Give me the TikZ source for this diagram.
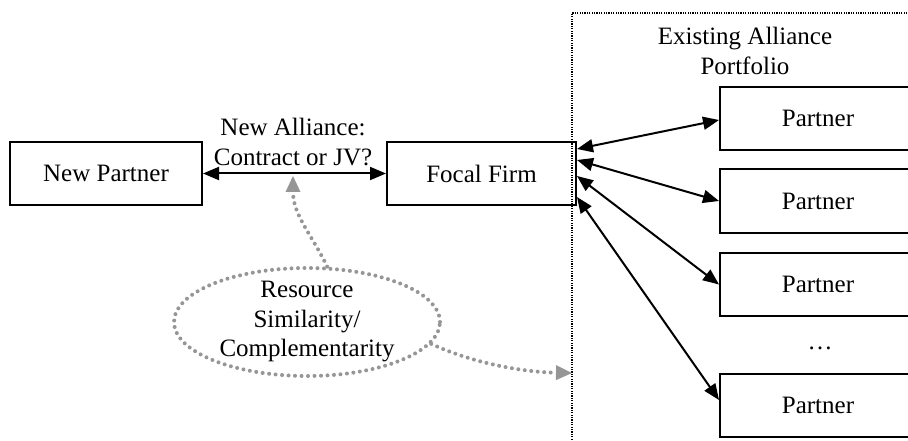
\documentclass[tikz,border=0pt]{standalone}
\usepackage{fontspec}
\setmainfont{Liberation Serif}
\usetikzlibrary{arrows.meta,shapes.geometric,calc}
\definecolor{dotgray}{RGB}{150,150,150}
\begin{document}
\begin{tikzpicture}[x=1pt,y=-1pt,
  box/.style={draw,line width=2pt,minimum width=192pt,minimum height=63pt,inner sep=0pt,font=\fontsize{25}{30}\selectfont},
  lbl/.style={align=center,inner sep=0pt,font=\fontsize{25}{29.5}\selectfont},
  link/.style={line width=2pt,{Triangle[length=16pt,width=13pt]}-{Triangle[length=16pt,width=13pt]}},
  gdot/.style={draw=dotgray,line width=4pt,line cap=round,dash pattern=on 0pt off 6.5pt},
  garrow/.style={gdot,-{Triangle[length=16pt,width=15pt,line width=0pt,fill=dotgray]}},
  border/.style={line width=1.6pt,dash pattern=on 1.2pt off 1.2pt}]
\useasboundingbox (0,0) rectangle (908,441);
% dotted portfolio border
\draw[border] (912,13) -| (572,445);
% nodes
\node[box] (np) at (106,173.5) {New Partner};
\node[box,minimum width=189pt] (ff) at (481.5,173.5) {Focal Firm};
\node[box,minimum width=196pt] (p1) at (818,118.5) {Partner};
\node[box,minimum width=196pt] (p2) at (818,201) {Partner};
\node[box,minimum width=196pt] (p3) at (818,284.5) {Partner};
\node[box,minimum width=196pt] (p4) at (818,405) {Partner};
\node[lbl] (dots) at (820,348) {…};
\node[lbl] (nal) at (293,142) {New Alliance:\\Contract or JV?};
\node[lbl] (eap) at (745,51) {Existing Alliance\\Portfolio};
\node[gdot,ellipse,minimum width=266pt,minimum height=108pt,inner sep=0pt] (el) at (307,322) {};
\node[lbl] (eltx) at (el.center) {Resource\\Similarity/\\Complementarity};
% connectors
\draw[link] (np) -- (ff);
\draw[link] ($(ff.north east)+(0,8)$) -- ($(p1.west)+(0,1.5)$);
\draw[link] ($(ff.north east)+(0,19)$) -- (p2.west);
\draw[link] ($(ff.north east)+(0,35)$) -- (p3.west);
\draw[link] ($(ff.north east)+(0,56)$) -- ($(p4.west)+(0,-5)$);
\coordinate (tA) at (293,176);
\coordinate (tB) at (572,373);
\draw[garrow] (el.70) .. controls (312,235) and (293,215) .. (tA);
\draw[garrow] (el.-10) .. controls (470,362) and (520,372) .. (tB);
\end{tikzpicture}
\end{document}
